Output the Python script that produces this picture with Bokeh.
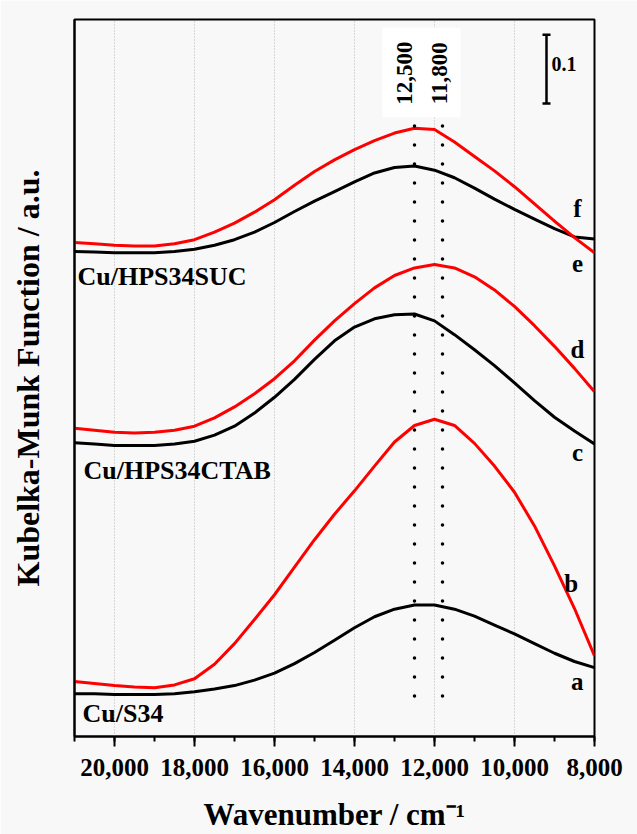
from bokeh.plotting import figure
from bokeh.models import (Range1d, SingleIntervalTicker, NumeralTickFormatter, FixedTicker,
                          ColumnDataSource, Label, BoxAnnotation)
from bokeh.core.properties import value
from bokeh.embed import file_html
from bokeh.resources import INLINE

# ---------------- data ----------------
wavenumber = [21000, 20500, 20000, 19500, 19000, 18500, 18000, 17500, 17000, 16500,
              16000, 15500, 15000, 14500, 14000, 13500, 13000, 12500, 12000, 11500,
              11000, 10500, 10000, 9500, 9000, 8500, 8000]

# Cu/S34
curve_a = [0.062, 0.062, 0.061, 0.061, 0.061, 0.062, 0.065, 0.069, 0.074, 0.082,
           0.092, 0.106, 0.122, 0.140, 0.158, 0.174, 0.185, 0.191, 0.191, 0.185,
           0.175, 0.162, 0.149, 0.135, 0.121, 0.109, 0.100]
curve_b = [0.080, 0.077, 0.074, 0.072, 0.071, 0.075, 0.084, 0.105, 0.135, 0.170,
           0.206, 0.246, 0.286, 0.323, 0.357, 0.393, 0.428, 0.452, 0.461, 0.452,
           0.426, 0.393, 0.355, 0.306, 0.248, 0.186, 0.117]
# Cu/HPS34CTAB
curve_c = [0.427, 0.425, 0.423, 0.423, 0.423, 0.425, 0.429, 0.438, 0.451, 0.470,
           0.493, 0.519, 0.548, 0.575, 0.595, 0.607, 0.613, 0.614, 0.604, 0.584,
           0.562, 0.539, 0.514, 0.488, 0.464, 0.444, 0.425]
curve_d = [0.448, 0.445, 0.442, 0.441, 0.442, 0.445, 0.451, 0.463, 0.479, 0.498,
           0.520, 0.546, 0.576, 0.604, 0.629, 0.652, 0.670, 0.681, 0.686, 0.681,
           0.668, 0.649, 0.625, 0.597, 0.567, 0.535, 0.501]
# Cu/HPS34SUC
curve_e = [0.705, 0.704, 0.703, 0.703, 0.703, 0.705, 0.708, 0.714, 0.722, 0.733,
           0.747, 0.763, 0.778, 0.792, 0.806, 0.819, 0.827, 0.829, 0.823, 0.812,
           0.797, 0.781, 0.766, 0.752, 0.738, 0.726, 0.723]
curve_f = [0.718, 0.716, 0.714, 0.713, 0.713, 0.716, 0.722, 0.733, 0.746, 0.762,
           0.780, 0.801, 0.821, 0.838, 0.853, 0.866, 0.877, 0.884, 0.882, 0.864,
           0.843, 0.822, 0.799, 0.774, 0.749, 0.725, 0.703]

curve_letters = ["a", "b", "c", "d", "e", "f"]
sample_names = ["Cu/S34", "Cu/HPS34CTAB", "Cu/HPS34SUC"]
peak_positions = [12500, 11800]
peak_labels = ["12,500", "11,800"]
scale_bar_value = 0.1
x_ticks_interval = 2000

FONT = "Liberation Serif"

# ---------------- figure ----------------
p = figure(width=637, height=834,
           x_range=Range1d(21000, 8000), y_range=Range1d(0, 1.042),
           output_backend="svg", toolbar_location=None,
           min_border_left=74, min_border_right=43, min_border_top=19, min_border_bottom=96,
           background_fill_color="#f8f8f8", border_fill_color="#f8f8f8")
p.outline_line_color = "black"
p.outline_line_width = 2

# x axis
xax = p.xaxis[0]
xax.ticker = SingleIntervalTicker(interval=x_ticks_interval, num_minor_ticks=2)
xax.formatter = NumeralTickFormatter(format="0,0")
xax.major_tick_out = 10
xax.major_tick_in = 0
xax.minor_tick_out = 5
xax.minor_tick_in = 0
xax.major_tick_line_width = 2
xax.minor_tick_line_width = 2
xax.major_tick_line_color = "black"
xax.minor_tick_line_color = "black"
xax.axis_line_width = 2
xax.axis_line_color = "black"
xax.major_label_text_font = FONT
xax.major_label_text_font_style = "bold"
xax.major_label_text_font_size = "25px"
xax.major_label_text_color = "black"
xax.major_label_standoff = 12
xax.axis_label = "Wavenumber / cm\u207b\u00b9"
xax.axis_label_text_font = FONT
xax.axis_label_text_font_style = "bold"
xax.axis_label_text_font_size = "31px"
xax.axis_label_text_color = "black"
xax.axis_label_standoff = 18

# y axis (no ticks)
yax = p.yaxis[0]
yax.ticker = FixedTicker(ticks=[])
yax.major_tick_line_color = None
yax.minor_tick_line_color = None
yax.major_label_text_font_size = "0px"
yax.axis_line_width = 2
yax.axis_line_color = "black"
yax.axis_label = "Kubelka-Munk Function / a.u."
yax.axis_label_text_font = FONT
yax.axis_label_text_font_style = "bold"
yax.axis_label_text_font_size = "32px"
yax.axis_label_text_color = "black"
yax.axis_label_standoff = 29

# grid
p.xgrid.ticker = SingleIntervalTicker(interval=x_ticks_interval)
p.xgrid.grid_line_color = "#b8b8b8"
p.xgrid.grid_line_dash = "1 2"
p.xgrid.grid_line_width = 1
p.ygrid.visible = False

# curves
src = ColumnDataSource(dict(w=wavenumber, a=curve_a, b=curve_b, c=curve_c,
                            d=curve_d, e=curve_e, f=curve_f))
for col, color in [("a", "black"), ("b", "#ff0000"), ("c", "black"),
                   ("d", "#ff0000"), ("e", "black"), ("f", "#ff0000")]:
    p.line("w", col, source=src, line_color=color, line_width=3, line_join="round")

# dotted peak markers
p.segment(x0=peak_positions, y0=[0.059] * 2, x1=peak_positions, y1=[0.896] * 2,
          line_color="black", line_width=3.5, line_dash="0 19", line_cap="round")

# white box behind peak labels
p.add_layout(BoxAnnotation(left=13300, right=11350, bottom=0.90, top=1.03,
                           fill_color="white", fill_alpha=1.0, line_color=None))
for pos, lab, off in zip(peak_positions, peak_labels, [-10, -3]):
    p.add_layout(Label(x=pos, y=0.964, x_offset=off, text=lab, angle=90, angle_units="deg",
                       text_align="center", text_baseline="middle",
                       text_font=FONT, text_font_style="bold", text_font_size="23px",
                       text_color="black"))

# scale bar
bar_x = 9200
bar_y0 = 0.92
p.segment(x0=[bar_x], y0=[bar_y0], x1=[bar_x], y1=[bar_y0 + scale_bar_value],
          line_color="black", line_width=2.5)
p.scatter(x=[bar_x, bar_x], y=[bar_y0, bar_y0 + scale_bar_value], marker="dash",
          size=8, line_color="black", line_width=2.5)
p.text(x=[bar_x], y=[0.978], text=[str(scale_bar_value)], x_offset=5,
       text_font=value(FONT), text_font_style="bold", text_font_size="20px",
       text_align="left", text_baseline="middle", text_color="black")

# curve letters
p.text(x=[8433, 8583, 8425, 8425, 8425, 8425],
       y=[0.080, 0.222, 0.413, 0.562, 0.688, 0.768],
       text=curve_letters,
       text_font=value(FONT), text_font_style="bold", text_font_size="25px",
       text_align="center", text_baseline="middle", text_color="black")

# sample names
p.text(x=[20800, 20775, 20925], y=[0.033, 0.386, 0.668], text=sample_names,
       text_font=value(FONT), text_font_style="bold", text_font_size="26px",
       text_align="left", text_baseline="middle", text_color="black")

open("out.html", "w").write(file_html(p, INLINE))
